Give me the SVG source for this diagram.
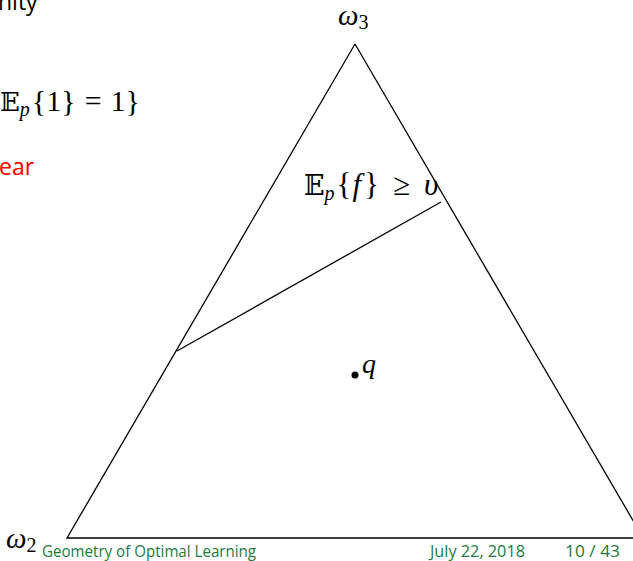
<svg xmlns="http://www.w3.org/2000/svg" width="633" height="561" viewBox="0 0 633 561">
<style>
.edge{fill:none;stroke:#000;stroke-width:1.3}
.m{font-family:"Liberation Serif","DejaVu Serif",serif;fill:#000}
.i{font-style:italic}
.bb{font-family:"DejaVu Serif","DejaVu Sans",serif}
.s{font-family:"Open Sans","Liberation Sans",sans-serif}
.f{font-family:"Open Sans","Liberation Sans",sans-serif;font-size:16px;fill:#217a3c}
</style>
<rect width="633" height="561" fill="#fff"/>
<g id="texts-left">
<text x="-2" y="10" class="s" font-size="23" fill="#000">nity</text>
<text x="0" y="111" class="m" font-size="30"><tspan class="bb" font-size="26">𝔼</tspan><tspan class="i" font-size="20" dy="5">p</tspan><tspan dy="-5" dx="2">{1}</tspan><tspan dx="9">=</tspan><tspan dx="9">1}</tspan></text>
<text x="-1" y="175" class="s" font-size="23" fill="#ff0000">ear</text>
</g>
<g id="connectors">
<path class="edge" d="M355,44 L67,538 L633,538"/>
<path class="edge" d="M355,44 L645,541"/>
<path class="edge" d="M177,351 L441,202"/>
</g>
<g id="omega3"><text x="338" y="25" class="m" font-size="29"><tspan class="i">ω</tspan><tspan font-size="20" dy="4">3</tspan></text></g>
<g id="constraint"><text x="304" y="195" class="m" font-size="31"><tspan class="bb" font-size="27">𝔼</tspan><tspan class="i" font-size="20" dy="5">p</tspan><tspan dy="-5" dx="2">{</tspan><tspan class="i" dx="1">f</tspan><tspan dx="3">}</tspan><tspan dx="14">≥</tspan><tspan class="i" dx="14">υ</tspan></text></g>
<g id="q"><circle cx="355" cy="375" r="3.5" fill="#000"/><text x="362" y="373" class="m i" font-size="28">q</text></g>
<g id="omega2"><text x="6" y="548" class="m" font-size="29"><tspan class="i">ω</tspan><tspan font-size="20" dy="4">2</tspan></text></g>
<g id="footer">
<text x="42" y="557" class="f" textLength="214" lengthAdjust="spacingAndGlyphs">Geometry of Optimal Learning</text>
<text x="430" y="557" class="f" textLength="95" lengthAdjust="spacingAndGlyphs">July 22, 2018</text>
<text x="565" y="557" class="f" textLength="55" lengthAdjust="spacingAndGlyphs">10 / 43</text>
</g>
</svg>
